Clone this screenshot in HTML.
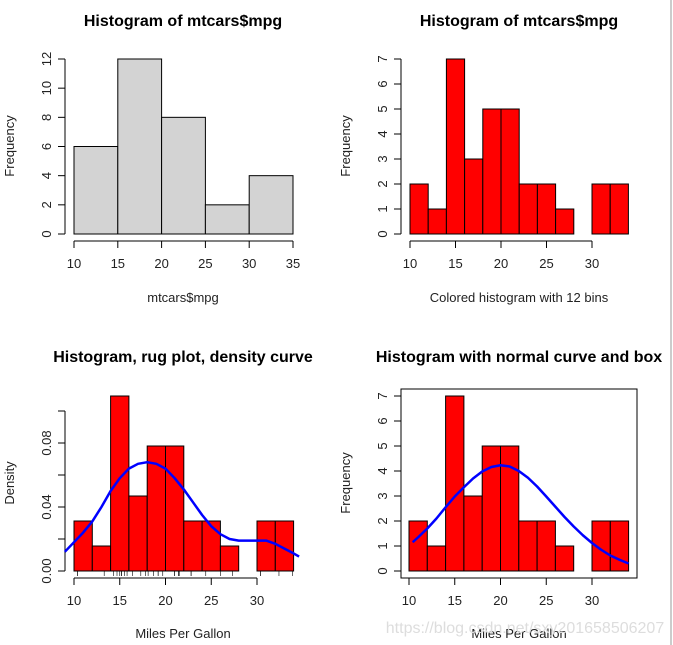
<!DOCTYPE html>
<html><head><meta charset="utf-8"><style>
body{margin:0;background:#fff;}
svg{display:block;font-family:"Liberation Sans","DejaVu Sans",sans-serif;}
.t{font-weight:bold;font-size:16px;text-anchor:middle;}
.l{font-size:13px;fill:#222;text-anchor:middle;}
</style></head><body>
<svg id="c" width="673" height="645" viewBox="0 0 673 645" xmlns="http://www.w3.org/2000/svg">
<line x1="671" y1="0" x2="671" y2="645" stroke="#ccc" stroke-width="2"/>
<text class="t" x="183" y="26">Histogram of mtcars$mpg</text>
<text class="t" x="519" y="26">Histogram of mtcars$mpg</text>
<text class="t" x="183" y="362">Histogram, rug plot, density curve</text>
<text class="t" x="519" y="362">Histogram with normal curve and box</text>
<text class="l" x="183" y="302">mtcars$mpg</text>
<text class="l" x="519" y="302">Colored histogram with 12 bins</text>
<text class="l" x="183" y="638">Miles Per Gallon</text>
<text class="l" x="519" y="638">Miles Per Gallon</text>
<text class="l" transform="translate(14,146) rotate(-90)">Frequency</text>
<text class="l" transform="translate(350,146) rotate(-90)">Frequency</text>
<text class="l" transform="translate(14,483) rotate(-90)">Density</text>
<text class="l" transform="translate(350,483) rotate(-90)">Frequency</text>
<text x="525" y="633" font-size="16" fill="#ddd" text-anchor="middle">https://blog.csdn.net/sxy201658506207</text>
</svg>
<script>
const bins1=[10,15,20,25,30,35];
const counts1=[6,12,8,2,4];
const yTicks1=[0,2,4,6,8,10,12];
const xTicks1=[10,15,20,25,30,35];
const bins12=[10,12,14,16,18,20,22,24,26,28,30,32,34];
const counts12=[2,1,7,3,5,5,2,2,1,0,2,2];
const yTicks2=[0,1,2,3,4,5,6,7];
const xTicks2=[10,15,20,25,30];
const yTicks3=[0,0.02,0.04,0.06,0.08,0.10];
const yTickLabels3=["0.00","","0.04","","0.08",""];
const mpg=[21,21,22.8,21.4,18.7,18.1,14.3,24.4,22.8,19.2,17.8,16.4,17.3,15.2,10.4,10.4,14.7,32.4,30.4,33.9,21.5,15.5,15.2,13.3,19.2,27.3,26,30.4,15.8,19.7,15,21.4];
const densX=[9,10,11,12,13,14,15,16,17,18,19,20,21,22,23,24,25,26,27,28,29,30,31,32,33,34,34.6];
const densY=[0.012,0.018,0.024,0.031,0.040,0.050,0.058,0.064,0.067,0.068,0.067,0.064,0.058,0.051,0.043,0.035,0.028,0.023,0.020,0.019,0.019,0.019,0.019,0.017,0.014,0.011,0.009];
const normX=[10.4,11,12,13,14,15,16,17,18,19,20,21,22,23,24,25,26,27,28,29,30,31,32,33,34];
const normY=[1.15,1.35,1.7,2.1,2.55,2.98,3.35,3.7,3.98,4.16,4.23,4.18,4.0,3.73,3.38,2.98,2.57,2.16,1.78,1.43,1.12,0.85,0.62,0.45,0.3];

const svg=document.getElementById('c');
const NS='http://www.w3.org/2000/svg';
function mk(tag,at,txt){const e=document.createElementNS(NS,tag);for(const k in at)e.setAttribute(k,at[k]);if(txt!==undefined)e.textContent=txt;svg.appendChild(e);return e;}
function lin(d0,d1,r0,r1){return v=>r0+(v-d0)*(r1-r0)/(d1-d0);}

function panel(p){
  const X=lin(10,p.xRef,p.x10,p.xRefPx), Y=lin(0,p.yRef,p.y0,p.yRefPx);
  for(let i=0;i<p.counts.length;i++){
    const v=p.counts[i]*p.scale;
    if(v<=0) continue;
    const r=mk('rect',{x:X(p.bins[i]),y:Y(v),width:X(p.bins[i+1])-X(p.bins[i]),height:Y(0)-Y(v),fill:p.fill,stroke:'#000','stroke-width':1});
    
    
  }
  const ax=p.axisX, yt=p.yTicks;
  let a=mk('line',{x1:ax,x2:ax,y1:Y(yt[0]),y2:Y(yt[yt.length-1]),stroke:'#000'});
  
  
  yt.forEach((t,i)=>{
    mk('line',{x1:ax-7,x2:ax,y1:Y(t),y2:Y(t),stroke:'#000'});
    const lab=p.yLabels?p.yLabels[i]:String(t);
    if(lab){const e=mk('text',{class:'l',transform:`translate(${ax-14},${Y(t)}) rotate(-90)`},lab);
    
    }
  });
  const xt=p.xTicks, ay=p.axisY;
  let b=mk('line',{x1:X(xt[0]),x2:X(xt[xt.length-1]),y1:ay,y2:ay,stroke:'#000'});
  
  
  xt.forEach(t=>{
    mk('line',{x1:X(t),x2:X(t),y1:ay,y2:ay+7,stroke:'#000'});
    const e=mk('text',{class:'l',x:X(t),y:ay+27},String(t));
    
    
  });
  return {X,Y};
}

panel({id:'p1',bins:bins1,counts:counts1,scale:1,fill:'#d3d3d3',x10:74,xRef:35,xRefPx:293,y0:234,yRef:12,yRefPx:59,axisX:65,axisY:241,yTicks:yTicks1,xTicks:xTicks1});
panel({id:'p2',bins:bins12,counts:counts12,scale:1,fill:'#ff0000',x10:410,xRef:30,xRefPx:592,y0:234,yRef:7,yRefPx:59,axisX:401,axisY:241,yTicks:yTicks2,xTicks:xTicks2});
const p3=panel({id:'p3',bins:bins12,counts:counts12,scale:1/64,fill:'#ff0000',x10:74,xRef:30,xRefPx:257,y0:571,yRef:0.08,yRefPx:443,axisX:65,axisY:578,yTicks:yTicks3,yLabels:yTickLabels3,xTicks:xTicks2});
const p4=panel({id:'p4',bins:bins12,counts:counts12,scale:1,fill:'#ff0000',x10:409,xRef:30,xRefPx:592,y0:571,yRef:7,yRefPx:396,axisX:401,axisY:578,yTicks:yTicks2,xTicks:xTicks2});
const bx=mk('rect',{x:401,y:389,width:236,height:189,fill:'none',stroke:'#000'});


mpg.forEach(v=>{
  const r=mk('line',{x1:p3.X(v),x2:p3.X(v),y1:571,y2:576,stroke:'#000','stroke-width':0.6});
  
  
});
const dc=mk('polyline',{points:densX.map((x,i)=>p3.X(x)+','+p3.Y(densY[i])).join(' '),fill:'none',stroke:'#0000ff','stroke-width':2.5,'stroke-linejoin':'round'});


const nc=mk('polyline',{points:normX.map((x,i)=>p4.X(x)+','+p4.Y(normY[i])).join(' '),fill:'none',stroke:'#0000ff','stroke-width':2.5,'stroke-linejoin':'round'});


</script>
</body></html>
